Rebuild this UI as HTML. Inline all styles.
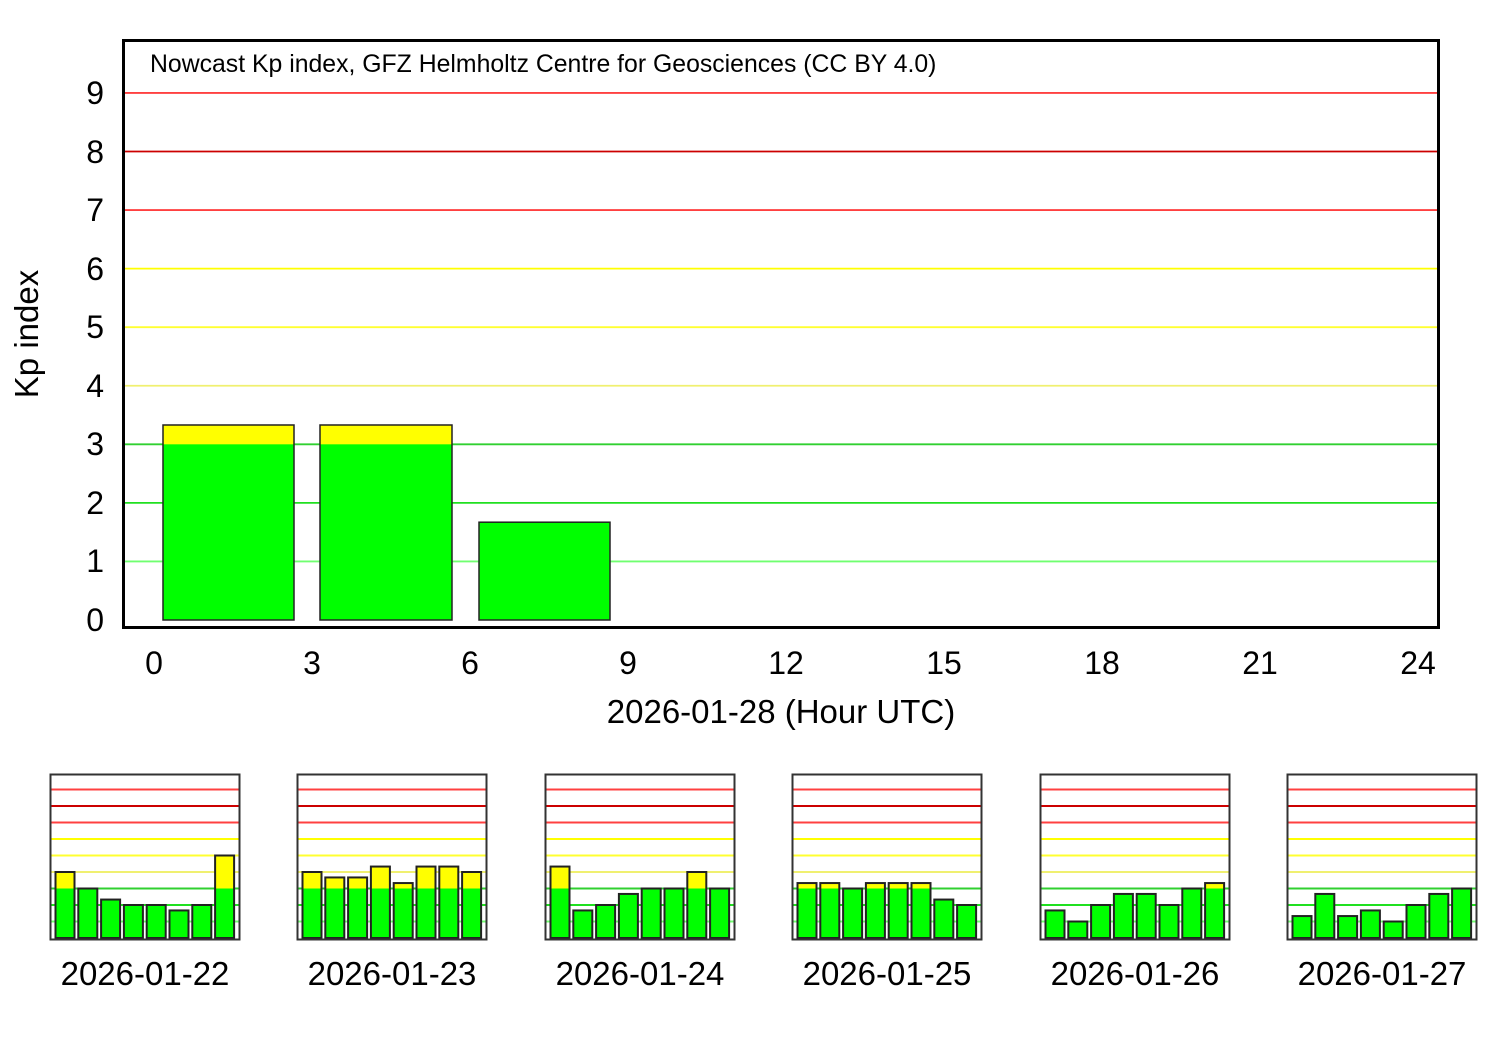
<!DOCTYPE html>
<html><head><meta charset="utf-8"><style>
html,body{margin:0;padding:0;background:#fff;width:1500px;height:1050px;overflow:hidden}
text{font-family:"Liberation Sans",Arial,sans-serif;fill:#000}
</style></head><body>
<svg id="s" width="1500" height="1050" xmlns="http://www.w3.org/2000/svg">
<g id="grid"></g>
<g id="bars"></g>
<rect x="123.5" y="40.5" width="1315" height="587" fill="none" stroke="#000" stroke-width="3"/>
<text x="150" y="72" font-size="24.8">Nowcast Kp index, GFZ Helmholtz Centre for Geosciences (CC BY 4.0)</text>
<g font-size="32" text-anchor="end">
<text x="104" y="631">0</text><text x="104" y="572">1</text><text x="104" y="514">2</text>
<text x="104" y="455">3</text><text x="104" y="397">4</text><text x="104" y="338">5</text>
<text x="104" y="280">6</text><text x="104" y="221">7</text><text x="104" y="163">8</text>
<text x="104" y="104">9</text>
</g>
<g font-size="32" text-anchor="middle">
<text x="154" y="674">0</text><text x="312" y="674">3</text><text x="470" y="674">6</text>
<text x="628" y="674">9</text><text x="786" y="674">12</text><text x="944" y="674">15</text>
<text x="1102" y="674">18</text><text x="1260" y="674">21</text><text x="1418" y="674">24</text>
<text x="781" y="723" font-size="33">2026-01-28 (Hour UTC)</text>
</g>
<text transform="translate(38,334) rotate(-90)" font-size="33" text-anchor="middle">Kp index</text>
<g font-size="33" text-anchor="middle">
<text x="145" y="985">2026-01-22</text><text x="392" y="985">2026-01-23</text>
<text x="640" y="985">2026-01-24</text><text x="887" y="985">2026-01-25</text>
<text x="1135" y="985">2026-01-26</text><text x="1382" y="985">2026-01-27</text>
</g>
</svg>
<script>
var NS="http://www.w3.org/2000/svg",g=document.getElementById('grid'),b=document.getElementById('bars');
function el(p,t,a){var e=document.createElementNS(NS,t);for(var k in a)e.setAttribute(k,a[k]);p.appendChild(e);return e;}
var cols=["#000","#70ff70","#20e020","#30d030","#f0f070","#ffff30","#ffff00","#ff4040","#cc0000","#ff4040"];
for(var i=1;i<=9;i++){var y=620-58.56*i;el(g,'line',{x1:124,x2:1438,y1:y,y2:y,stroke:cols[i],'stroke-width':1.8});}
function bar(p,x,w,z,u,v,sw){var top=z-u*v;
 if(v>3){el(p,'rect',{x:x,y:top,width:w,height:z-top,fill:'#ffff00'});el(p,'rect',{x:x,y:z-3*u,width:w,height:3*u,fill:'#00ff00'});}
 else el(p,'rect',{x:x,y:top,width:w,height:z-top,fill:'#00ff00'});
 el(p,'rect',{x:x,y:top,width:w,height:z-top,fill:'none',stroke:'#222','stroke-width':sw});}
bar(b,163,131,620,58.56,3.33,1.5);bar(b,320,132,620,58.56,3.33,1.5);bar(b,479,131,620,58.56,1.67,1.5);
var xs=[50,297,545,792,1040,1287];
var d=[[4,3,2.33,2,2,1.67,2,5],[4,3.67,3.67,4.33,3.33,4.33,4.33,4],[4.33,1.67,2,2.67,3,3,4,3],
[3.33,3.33,3,3.33,3.33,3.33,2.33,2],[1.67,1,2,2.67,2.67,2,3,3.33],[1.33,2.67,1.33,1.67,1,2,2.67,3]];
for(var c=0;c<6;c++){var x0=xs[c];
 for(var i=1;i<=9;i++){var y=938-16.5*i;el(g,'line',{x1:x0,x2:x0+189,y1:y,y2:y,stroke:cols[i],'stroke-width':2});}
 for(var j=0;j<8;j++)bar(b,x0+5.5+j*22.8,19,938,16.5,d[c][j],2);
 el(b,'rect',{x:x0+0.5,y:774.5,width:189,height:165,fill:'none',stroke:'#333','stroke-width':2});}
</script>
</body></html>
